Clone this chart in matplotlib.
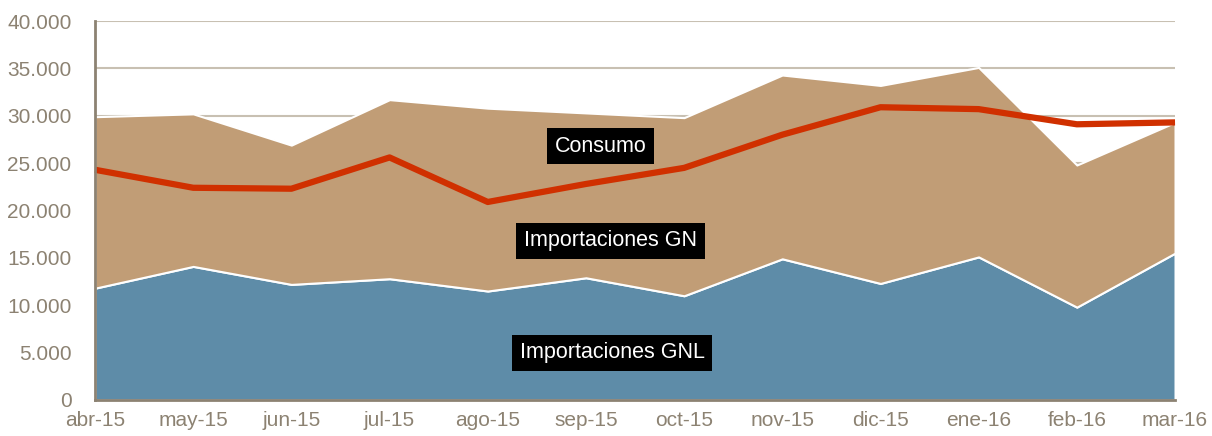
import matplotlib.pyplot as plt
from matplotlib.ticker import FuncFormatter

plt.rcParams['font.family'] = ['Liberation Sans', 'DejaVu Sans']

meses = ['abr-15', 'may-15', 'jun-15', 'jul-15', 'ago-15', 'sep-15',
         'oct-15', 'nov-15', 'dic-15', 'ene-16', 'feb-16', 'mar-16']
imp_gnl = [11800, 14100, 12200, 12800, 11500, 12900,
           11000, 14900, 12300, 15100, 9800, 15500]
total = [29900, 30200, 26900, 31700, 30800, 30300,
         29800, 34300, 33200, 35100, 24800, 29300]
imp_gn = [t - g for t, g in zip(total, imp_gnl)]
consumo = [24300, 22400, 22300, 25600, 20900, 22800,
           24500, 28000, 30900, 30700, 29100, 29300]

azul = '#5E8CA8'
tostado = '#C19D76'
rojo = '#D03000'
gris = '#8C8272'

fig = plt.figure(figsize=(12.12, 4.36), dpi=100)
ax = fig.add_axes([0.0784, 0.0826, 0.8911, 0.8692])

x = range(len(meses))
ax.stackplot(x, imp_gnl, imp_gn, colors=[azul, tostado],
             edgecolor='white', linewidth=1.5, zorder=2)
ax.plot(x, consumo, color=rojo, linewidth=4.5, zorder=3,
        solid_capstyle='butt', clip_on=False)

ax.set_xlim(0, len(meses) - 1)
ax.set_ylim(0, 40000)
ax.set_yticks(range(0, 40001, 5000))
ax.yaxis.set_major_formatter(FuncFormatter(lambda v, p: f'{int(v):,}'.replace(',', '.')))
ax.set_xticks(list(x))
ax.set_xticklabels(meses)
ax.grid(axis='y', color='#C8C0B2', linewidth=1.5, zorder=0)
ax.set_axisbelow(True)

for s in ['top', 'right']:
    ax.spines[s].set_visible(False)
for s in ['left', 'bottom']:
    ax.spines[s].set_color(gris)
    ax.spines[s].set_linewidth(2)
    ax.spines[s].set_zorder(4)

ax.tick_params(axis='both', length=0, labelsize=15, colors=gris)
ax.tick_params(axis='y', pad=17)
ax.tick_params(axis='x', pad=8)

caja = dict(boxstyle='square,pad=0.35', facecolor='black', edgecolor='none')
ax.text(5.15, 26800, 'Consumo', color='white', fontsize=15.5,
        ha='center', va='center', bbox=caja, zorder=5)
ax.text(5.25, 16800, 'Importaciones GN', color='white', fontsize=15.5,
        ha='center', va='center', bbox=caja, zorder=5)
ax.text(5.27, 5000, 'Importaciones GNL', color='white', fontsize=15.5,
        ha='center', va='center', bbox=caja, zorder=5)

fig.savefig('out.png', dpi=100)
